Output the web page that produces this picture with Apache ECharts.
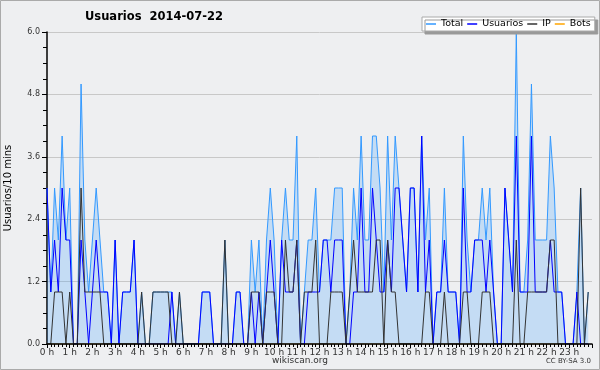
<!DOCTYPE html>
<html>
<head>
<meta charset="utf-8">
<script src="https://cdn.jsdelivr.net/npm/echarts@6/dist/echarts.min.js"></script>
<style>
html,body{margin:0;padding:0;background:#eeeff1;}
#main{width:600px;height:370px;}
</style>
</head>
<body>
<div id="main"></div>
<script>
// valores por tramo de 10 minutos (144 tramos)
var total    = [3,1,3,2,4,2,3,0,0,5,2,1,2,3,2,1,1,0,2,0,1,1,1,2,
                0,1,0,0,1,1,1,1,1,1,0,1,0,0,0,0,0,1,1,1,0,0,0,2,
                0,0,1,1,0,0,2,1,2,0,2,3,2,0,2,3,2,2,4,0,1,2,2,3,
                1,2,2,2,3,3,3,0,1,3,2,4,2,2,4,4,3,1,4,2,4,3,2,1,
                3,3,1,4,2,3,0,1,1,3,1,1,1,0,4,2,1,2,2,3,2,3,1,0,
                0,3,2,1,6,1,1,2,5,2,2,2,2,4,3,1,1,0,0,0,1,3,0,1];
var usuarios = [3,1,2,1,3,2,2,0,0,2,1,0,1,2,1,1,1,0,2,0,1,1,1,2,
                0,0,0,0,0,0,0,0,0,1,0,0,0,0,0,0,0,1,1,1,0,0,0,0,
                0,0,1,1,0,0,1,0,1,0,1,2,1,0,2,1,1,1,2,0,0,1,1,1,
                1,2,2,1,2,2,2,0,0,1,1,3,1,1,3,2,1,1,2,1,3,3,2,1,
                3,3,1,4,1,2,0,1,1,2,1,1,1,0,3,1,1,2,2,2,1,2,1,0,
                0,3,2,1,4,1,1,1,4,1,1,1,1,2,1,1,1,0,0,0,1,0,0,0];
var ip       = [0,0,1,1,1,0,1,0,0,3,1,1,1,1,1,0,0,0,0,0,0,0,0,0,
                0,1,0,0,1,1,1,1,1,0,0,1,0,0,0,0,0,0,0,0,0,0,0,2,
                0,0,0,0,0,0,1,1,1,0,1,1,1,0,0,2,1,1,2,0,1,1,1,2,
                0,0,0,1,1,1,1,0,1,2,1,1,1,1,1,2,2,0,2,1,1,0,0,0,
                0,0,0,0,1,1,0,0,0,1,0,0,0,0,1,1,0,0,0,1,1,1,0,0,
                0,0,0,0,2,0,0,1,1,1,1,1,1,2,2,0,0,0,0,0,0,3,0,1];
var bots     = [0,0,0,0,0,0,0,0,0,0,0,0,0,0,0,0,0,0,0,0,0,0,0,0,
                0,0,0,0,0,0,0,0,0,0,0,0,0,0,0,0,0,0,0,0,0,0,0,0,
                0,0,0,0,0,0,0,0,0,0,0,0,0,0,0,0,0,0,0,0,0,0,0,0,
                0,0,0,0,0,0,0,0,0,0,0,0,0,0,0,0,0,0,0,0,0,0,0,0,
                0,0,0,0,0,0,0,0,0,0,0,0,0,0,0,0,0,0,0,0,0,0,0,0,
                0,0,0,0,0,0,0,0,0,0,0,0,0,0,0,0,0,0,0,0,0,0,0,0];
var nombres = ['Total','Usuarios','IP','Bots'];
var yTicks = ['0.0','1.2','2.4','3.6','4.8','6.0'];

function pares(arr){
	return arr.map(function(v,i){ return [i,v]; });
}

var fuente = 'DejaVu Sans';
var myChart = echarts.init(document.getElementById('main'));

var option = {
	backgroundColor:'#eeeff1',
	animation:false,
	title:{
		text:'Usuarios  2014-07-22',
		left:80, top:6,
		textStyle:{fontFamily:fuente,fontSize:11.5,fontWeight:'bold',color:'#000'}
	},
	legend:{
		data:nombres,
		left:422, top:17,
		icon:'rect',
		itemWidth:10, itemHeight:1.5, itemGap:4,
		padding:[2,4,2,4],
		backgroundColor:'#fff',
		borderColor:'#aaa', borderWidth:1,
		shadowColor:'#999', shadowBlur:0, shadowOffsetX:3, shadowOffsetY:3,
		textStyle:{fontFamily:fuente,fontSize:9.5,color:'#000'}
	},
	grid:{left:47, right:8, top:32, bottom:26, outerBoundsMode:'none', containLabel:false},
	xAxis:{
		type:'value', min:0, max:144, interval:6,
		z:5,
		axisLine:{lineStyle:{color:'#000',width:1.5}},
		axisTick:{length:4,lineStyle:{color:'#000'}},
		minorTick:{show:true,splitNumber:6,length:3,lineStyle:{color:'#000'}},
		splitLine:{show:false},
		axisLabel:{
			fontFamily:fuente,fontSize:9,color:'#333',margin:4,showMaxLabel:false,
			formatter:function(v){ return v<144 ? (v/6)+' h' : ''; }
		}
	},
	yAxis:{
		type:'value', min:0, max:6, interval:1.2,
		name:'Usuarios/10 mins', nameLocation:'middle', nameGap:34, nameRotate:90,
		nameTextStyle:{fontFamily:fuente,fontSize:10,color:'#000'},
		axisLine:{show:true,lineStyle:{color:'#000',width:1.5}},
		axisTick:{show:true,length:5,lineStyle:{color:'#000'}},
		minorTick:{show:true,splitNumber:4,length:4,lineStyle:{color:'#000'}},
		splitLine:{lineStyle:{color:'#c8c8c8',width:1}},
		axisLabel:{
			fontFamily:fuente,fontSize:8,color:'#333',margin:7,
			formatter:function(v){ return yTicks[Math.round(v/1.2)]; }
		}
	},
	graphic:[
		{type:'rect',shape:{x:0.5,y:0.5,width:599,height:369},style:{fill:'none',stroke:'#aaa',lineWidth:1}},
		{type:'text',left:'center',top:356,style:{text:'wikiscan.org',fontFamily:fuente,fontSize:9,fill:'#333'}},
		{type:'text',right:9,top:358,style:{text:'CC BY-SA 3.0',fontFamily:fuente,fontSize:7,fill:'#333'}}
	],
	series:[
		{name:'Total',type:'line',data:pares(total),symbol:'none',z:2,
		 itemStyle:{color:'#3399ff'},lineStyle:{color:'#3399ff',width:1},
		 areaStyle:{color:'#3399ff',opacity:0.22}},
		{name:'Usuarios',type:'line',data:pares(usuarios),symbol:'none',z:3,
		 itemStyle:{color:'#0000ff'},lineStyle:{color:'#0000ff',width:1}},
		{name:'IP',type:'line',data:pares(ip),symbol:'none',z:4,
		 itemStyle:{color:'#333'},lineStyle:{color:'#333',width:1}},
		{name:'Bots',type:'line',data:pares(bots),symbol:'none',z:1,
		 itemStyle:{color:'#ffa500'},lineStyle:{color:'#ffa500',width:1}}
	]
};
myChart.setOption(option);
</script>
</body>
</html>
